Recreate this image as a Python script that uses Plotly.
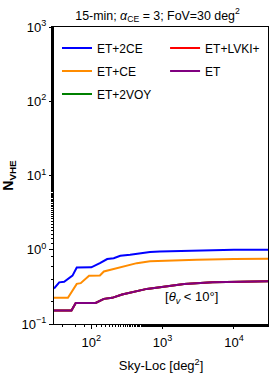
import plotly.graph_objects as go

# ---- data ----
x_2ce = [30, 35.5, 41.6, 54.5, 62.5, 100, 132, 167, 206, 255, 350, 484, 665, 915, 3000, 10000, 30000]
y_2ce = [0.30, 0.364, 0.37, 0.448, 0.578, 0.58, 0.66, 0.75, 0.77, 0.83, 0.857, 0.90, 0.93, 0.95, 0.98, 1.0, 1.0]

x_ce = [30, 47, 62.5, 71, 93, 132, 150, 206, 270, 350, 435, 665, 915, 3000, 10000, 30000]
y_ce = [0.225, 0.225, 0.347, 0.355, 0.448, 0.45, 0.51, 0.55, 0.60, 0.63, 0.66, 0.70, 0.71, 0.735, 0.75, 0.755]

x_2voy = [30, 52.7, 60.5, 115, 150, 196, 270, 371, 458, 600, 917, 2000, 5000, 10000, 30000]
y_2voy = [0.152, 0.152, 0.192, 0.192, 0.218, 0.225, 0.249, 0.267, 0.276, 0.297, 0.312, 0.345, 0.365, 0.372, 0.376]

x_lvki = [30, 52.7, 60.5, 115, 150, 196, 270, 371, 458, 600, 917, 2000, 5000, 10000, 30000]
y_lvki = [0.152, 0.152, 0.192, 0.192, 0.218, 0.225, 0.249, 0.267, 0.276, 0.297, 0.312, 0.345, 0.365, 0.372, 0.376]

x_et = [30, 52.7, 60.5, 115, 150, 196, 270, 371, 458, 600, 917, 2000, 5000, 10000, 30000]
y_et = [0.152, 0.152, 0.192, 0.192, 0.218, 0.225, 0.249, 0.267, 0.276, 0.297, 0.312, 0.345, 0.365, 0.372, 0.376]

xtick_vals = [100, 1000, 10000]
xtick_text = ["10<sup>2</sup>", "10<sup>3</sup>", "10<sup>4</sup>"]
ytick_vals = [0.1, 1, 10, 100, 1000]
ytick_text = ["10<sup>\u22121</sup>", "10<sup>0</sup>", "10<sup>1</sup>", "10<sup>2</sup>", "10<sup>3</sup>"]

FONT = "Liberation Sans, Arial, sans-serif"

fig = go.Figure()
# (name, x, y, colour, legend id, legend x (paper), legend y (paper))
series = [
    ("ET+2CE", x_2ce, y_2ce, "#0000ff", "legend", 0.014, 0.929),
    ("ET+CE", x_ce, y_ce, "#ff8c00", "legend2", 0.014, 0.852),
    ("ET+2VOY", x_2voy, y_2voy, "#008000", "legend3", 0.014, 0.774),
    ("ET+LVKI+", x_lvki, y_lvki, "#ff0000", "legend4", 0.519, 0.929),
    ("ET", x_et, y_et, "#800080", "legend5", 0.519, 0.852),
]

legends = {}
for name, xs, ys, col, leg, lx, ly in series:
    fig.add_trace(go.Scatter(x=xs, y=ys, mode="lines", name=name,
                             line=dict(color=col, width=2), legend=leg))
    legends[leg] = dict(x=lx, y=ly, xanchor="left", yanchor="middle",
                        font=dict(family=FONT, size=12, color="black"),
                        bgcolor="rgba(0,0,0,0)", borderwidth=0, itemwidth=30)

fig.update_layout(
    width=274, height=382,
    margin=dict(l=54, r=6, t=27, b=58, autoexpand=False),
    paper_bgcolor="white", plot_bgcolor="white",
    font=dict(family=FONT, size=12, color="black"),
    title=dict(text="15-min; <i>\u03b1</i><sub>CE</sub> = 3; FoV=30 deg<sup>2</sup>",
               x=0.575, xanchor="center", y=0.96, yanchor="middle",
               font=dict(family=FONT, size=12.4, color="black")),
    xaxis=dict(type="log", range=[1.477, 4.477], automargin=False,
               tickvals=xtick_vals, ticktext=xtick_text,
               ticks="outside", ticklen=4, tickwidth=1, tickcolor="black",
               ticklabelstandoff=2,
               minor=dict(ticks="outside", ticklen=2, tickcolor="black", showgrid=False),
               showline=True, linecolor="black", linewidth=1, mirror=True,
               showgrid=False, zeroline=False,
               tickfont=dict(family=FONT, size=13, color="black"),
               title=dict(text="Sky-Loc [deg<sup>2</sup>]", standoff=12,
                          font=dict(family=FONT, size=13, color="black"))),
    yaxis=dict(type="log", range=[-1, 3], automargin=False,
               tickvals=ytick_vals, ticktext=ytick_text,
               ticks="outside", ticklen=4, tickwidth=1, tickcolor="black",
               minor=dict(ticks="outside", ticklen=2, tickcolor="black", showgrid=False),
               showline=True, linecolor="black", linewidth=1, mirror=True,
               showgrid=False, zeroline=False,
               tickfont=dict(family=FONT, size=13, color="black"),
               title=dict(text="<b>N<sub>VHE</sub></b>", standoff=7,
                          font=dict(family=FONT, size=14, color="black"))),
    showlegend=True,
    **legends,
)

fig.add_annotation(x=3.41, y=-0.644, xref="x", yref="y",
                   text="[<i>\u03b8<sub>v</sub></i> < 10\u00b0]", showarrow=False,
                   font=dict(family=FONT, size=13, color="black"))

fig.write_html("out.html", config={"displayModeBar": False},
               post_script="document.body.style.margin='0';")
